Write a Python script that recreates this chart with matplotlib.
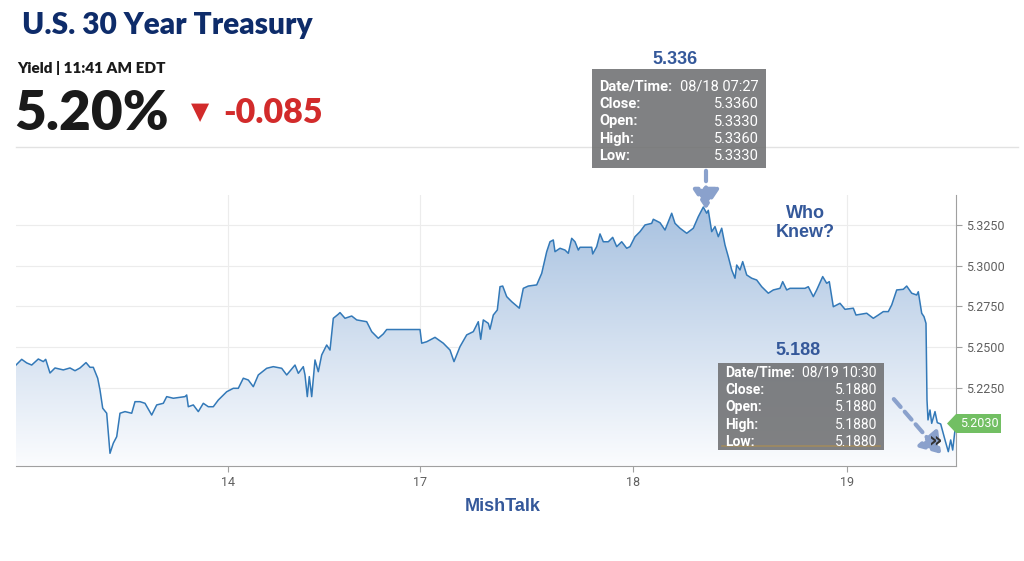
import numpy as np
import matplotlib
matplotlib.use('Agg')
import matplotlib.pyplot as plt
from matplotlib.patches import Rectangle, Polygon, FancyArrowPatch
from matplotlib.transforms import Affine2D

# intraday bars (compressed trading time, Aug 13 -> Aug 19) and 30y yield
bars = [0, 5.7, 10.7, 15.7, 22.3, 27.3, 29.7, 34, 39, 47.3, 54, 59, 64, 70, 74, 77.3,
        81.7, 84, 86.7, 90.7, 94, 97.3, 100.7, 104, 109, 115.7, 119, 124, 129, 135.7,
        140.7, 147.3, 150.7, 157.3, 169, 170.7, 172.3, 177.3, 182.3, 187.3, 192.3, 197.3,
        202.3, 210.7, 217.3, 222.3, 227.3, 232.3, 237.3, 242.3, 250.7, 257.3, 265.7,
        270.7, 279, 282.3, 287.3, 289, 291.3, 293.3, 295.7, 299, 302.3, 305.7, 310.7,
        314, 317.3, 322.3, 324, 329, 335.7, 340.7, 350.7, 355.7, 362.3, 367.3, 370.7,
        404, 405.7, 410.7, 419, 427.3, 434, 438, 444, 450.7, 457.3, 462.3, 464.7, 467.3,
        472.3, 474, 477.3, 481.3, 484, 486.7, 490.7, 495.7, 503.3, 507.3, 512.3, 520.7,
        525.7, 530.7, 534, 537.3, 539, 544, 549, 552.3, 555.7, 559, 562.3, 564, 575.7,
        576.7, 580.7, 584, 587.3, 592.3, 596.7, 600.7, 605.7, 610.7, 614, 619, 624, 629,
        635.7, 637.3, 644, 649, 655.7, 659, 664, 670.7, 677.3, 682.3, 687.3, 690.7, 692.3,
        695.7, 699, 702.3, 705.7, 709, 712.3, 715.7, 719, 720.7, 724, 726.7, 730.7,
        735.7, 740.7, 745.7, 752.3, 757.3, 764, 766.7, 770.7, 774, 789, 792.3, 797.3,
        800.7, 806.7, 810.7, 813.3, 817.3, 824, 829, 837.3, 840, 850.7, 857.3, 862.3,
        867.3, 872.3, 875.7, 880.7, 887.3, 890.7, 895.7, 900.7, 902.3, 905.7, 908, 910,
        911, 912, 914, 915.7, 919, 921.3, 924.7, 929, 932.3, 934.7, 936.7, 939, 940]
yields = [5.2390, 5.2425, 5.2403, 5.2390, 5.2427, 5.2411, 5.2425, 5.2341, 5.2372, 5.2360,
          5.2372, 5.2355, 5.2372, 5.2405, 5.2376, 5.2376, 5.2309, 5.2237, 5.2125, 5.2094,
          5.1848, 5.1910, 5.1950, 5.2094, 5.2104, 5.2094, 5.2165, 5.2165, 5.2155, 5.2083,
          5.2145, 5.2155, 5.2196, 5.2186, 5.2196, 5.2206, 5.2134, 5.2145, 5.2104, 5.2155,
          5.2134, 5.2134, 5.2175, 5.2226, 5.2247, 5.2247, 5.2309, 5.2298, 5.2257, 5.2329,
          5.2370, 5.2380, 5.2370, 5.2329, 5.2390, 5.2339, 5.2380, 5.2329, 5.2196, 5.2319,
          5.2196, 5.2421, 5.2349, 5.2452, 5.2513, 5.2482, 5.2677, 5.2702, 5.2712, 5.2677,
          5.2691, 5.2667, 5.2656, 5.2595, 5.2554, 5.2581, 5.2608, 5.2608, 5.2524, 5.2533,
          5.2560, 5.2524, 5.2482, 5.2411, 5.2503, 5.2575, 5.2595, 5.2656, 5.2548, 5.2667,
          5.2646, 5.2610, 5.2697, 5.2728, 5.2871, 5.2875, 5.2810, 5.2779, 5.2739, 5.2861,
          5.2875, 5.2882, 5.2953, 5.3086, 5.3147, 5.3158, 5.3086, 5.3107, 5.3096, 5.3076,
          5.3168, 5.3147, 5.3096, 5.3113, 5.3113, 5.3072, 5.3117, 5.3195, 5.3147, 5.3147,
          5.3174, 5.3117, 5.3147, 5.3107, 5.3117, 5.3178, 5.3209, 5.3250, 5.3260, 5.3285,
          5.3264, 5.3219, 5.3322, 5.3260, 5.3230, 5.3199, 5.3230, 5.3301, 5.3360, 5.3322,
          5.3340, 5.3209, 5.3240, 5.3178, 5.3230, 5.3127, 5.3055, 5.2974, 5.2923, 5.3004,
          5.2974, 5.3025, 5.2943, 5.2923, 5.2912, 5.2871, 5.2831, 5.2851, 5.2861, 5.2902,
          5.2851, 5.2861, 5.2861, 5.2871, 5.2810, 5.2851, 5.2933, 5.2892, 5.2902, 5.2748,
          5.2769, 5.2732, 5.2739, 5.2697, 5.2708, 5.2677, 5.2697, 5.2718, 5.2718, 5.2759,
          5.2851, 5.2855, 5.2875, 5.2831, 5.2820, 5.2840, 5.2708, 5.2687, 5.2646, 5.2175,
          5.2053, 5.2114, 5.2032, 5.2104, 5.2036, 5.2028, 5.1930, 5.1858, 5.1930, 5.1868,
          5.1991, 5.2030]

tick_pos = [212, 404, 617, 831]
tick_labels = ['14', '17', '18', '19']
y_ticks = [5.225, 5.25, 5.275, 5.3, 5.325]

last_yield = 5.2030
tip_top = ['08/18 07:27', '5.3360', '5.3330', '5.3360', '5.3330']
tip_low = ['08/19 10:30', '5.1880', '5.1880', '5.1880', '5.1880']
tip_names = ['Date/Time:', 'Close:', 'Open:', 'High:', 'Low:']

ymin, ymax = 5.1770, 5.3434

fig = plt.figure(figsize=(10.24, 5.61), dpi=100)
fig.patch.set_facecolor('white')
# pixel coordinates for the page furniture
pix = Affine2D().scale(1 / 1024, -1 / 561).translate(0, 1) + fig.transFigure

ax = fig.add_axes([16 / 1024, 95 / 561, 940 / 1024, 271 / 561])
ax.set_xlim(0, 940)
ax.set_ylim(ymin, ymax)

# gradient area under the line
poly = ax.fill_between(bars, yields, ymin, facecolor='none', edgecolor='none')
grad = np.linspace(0, 1, 256).reshape(-1, 1)
cmap = matplotlib.colors.LinearSegmentedColormap.from_list('g', ['#a4bfdf', '#fbfcfe'])
im = ax.imshow(grad, cmap=cmap, aspect='auto', extent=[0, 940, ymin, ymax],
               origin='upper', zorder=1)
im.set_clip_path(poly.get_paths()[0], transform=ax.transData)
ax.plot(bars, yields, color='#3379b8', lw=1.1, zorder=3)

ax.set_xticks(tick_pos)
ax.set_xticklabels(tick_labels)
ax.yaxis.tick_right()
ax.set_yticks(y_ticks)
ax.set_yticklabels([f'{v:.4f}' for v in y_ticks])
ax.grid(True, color='#ececec', lw=0.8, zorder=0)
ax.set_axisbelow(True)
for s in ['top', 'left']:
    ax.spines[s].set_visible(False)
for s in ['right', 'bottom']:
    ax.spines[s].set_color('#a0a0a0')
ax.tick_params(axis='both', colors='#a0a0a0', labelcolor='#606060', labelsize=9, length=4)
for lab in ax.get_xticklabels() + ax.get_yticklabels():
    lab.set_family('Roboto')

# header
fig.text(22, 25, 'U.S. 30 Year Treasury', transform=pix, fontsize=21.5, fontweight='heavy',
         family='Lato', color='#0e2c6a', va='center')
fig.text(17, 68, 'Yield | 11:41 AM EDT', transform=pix, fontsize=11, fontweight='heavy',
         family='Lato', color='#1a1a1a', va='center')
fig.text(14, 114, '5.20%', transform=pix, fontsize=39.5, fontweight='heavy',
         family='Lato', color='#1a1a1a', va='center')
fig.text(191, 112, '▼', transform=pix, fontsize=17, family='DejaVu Sans',
         color='#d22b2b', va='center')
fig.text(223, 113, '-0.085', transform=pix, fontsize=24.5, fontweight='heavy',
         family='Lato', color='#d22b2b', va='center')
fig.add_artist(matplotlib.lines.Line2D([16, 1018], [147, 147], transform=pix,
                                       color='#e2e2e2', lw=1))


def tooltip(x0, y0, w, h, first, fs, vals, head, hx, hy):
    fig.add_artist(Rectangle((x0, y0), w, h, transform=pix, facecolor='#6f7072',
                             alpha=0.88, edgecolor='none', zorder=5))
    for i, (n, v) in enumerate(zip(tip_names, vals)):
        yy = y0 + first + i * 17.5
        fig.text(x0 + 7, yy, n, transform=pix, fontsize=fs, fontweight='bold',
                 family='Roboto', color='white', va='center', zorder=6)
        fig.text(x0 + w - 7, yy, v, transform=pix, fontsize=fs, family='Roboto',
                 color='white', va='center', ha='right', zorder=6)
    fig.text(hx, hy, head, transform=pix, fontsize=13, fontweight='bold',
             family='Liberation Sans', color='#34589a', va='center', ha='center', zorder=6)


tooltip(592, 69, 174, 99, 17.5, 10.5, tip_top, '5.336', 675, 60)
tooltip(718, 363, 166, 87, 9.5, 10, tip_low, '5.188', 798, 351)
fig.add_artist(matplotlib.lines.Line2D([722, 880], [446, 446], transform=pix,
                                       color='#a08a60', lw=1.2, zorder=6))

# dashed pointer arrows
for (a, b) in [((706, 168), (706, 212)), ((892, 397), (943, 456))]:
    fig.add_artist(FancyArrowPatch(a, b, transform=pix, arrowstyle='-|>,head_length=6,head_width=4',
                                   color='#8aa1cc', lw=3, linestyle=(0, (2.5, 1.5)),
                                   mutation_scale=2, zorder=7))

fig.text(929, 440, '»', transform=pix, fontsize=15, fontweight='bold', color='#333333',
         family='DejaVu Sans', va='center', zorder=8)

fig.text(805, 223, 'Who\nKnew?', transform=pix, fontsize=13, fontweight='bold',
         family='Liberation Sans', color='#34589a', va='center', ha='center',
         linespacing=1.15)
fig.text(503, 507, 'MishTalk', transform=pix, fontsize=13, fontweight='bold',
         family='Liberation Sans', color='#34589a', va='center', ha='center')

# last price tag
fig.add_artist(Polygon([(947, 423.5), (956, 414), (1001, 414), (1001, 433), (956, 433)],
                       closed=True, transform=pix, facecolor='#72bf63', edgecolor='none',
                       zorder=6))
fig.text(979, 423.5, f'{last_yield:.4f}', transform=pix, fontsize=9, family='Roboto',
         color='white', va='center', ha='center', zorder=7)

fig.savefig('out.png', dpi=100, facecolor='white')
